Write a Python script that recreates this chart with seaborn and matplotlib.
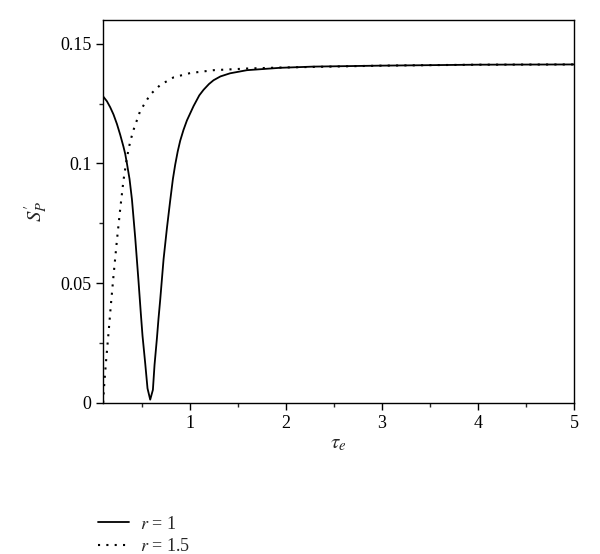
import numpy as np
import pandas as pd
import matplotlib
matplotlib.use("Agg")
import matplotlib.pyplot as plt
import seaborn as sns

# r = 1 (solid)
tau_r1 = [0.100, 0.139, 0.173, 0.207, 0.243, 0.277, 0.311, 0.329, 0.347, 0.374, 0.399,
          0.433, 0.467, 0.492, 0.509, 0.537, 0.561, 0.589, 0.617, 0.634, 0.659, 0.675,
          0.693, 0.728, 0.763, 0.797, 0.825, 0.849, 0.875, 0.901, 0.935, 0.971, 1.04,
          1.10, 1.144, 1.20, 1.248, 1.32, 1.42, 1.595, 1.942, 2.29, 2.98, 4.0, 5.0]
sp_r1 = [0.1280, 0.1260, 0.1235, 0.1205, 0.1165, 0.1120, 0.1070, 0.1040, 0.1000, 0.0935, 0.0850,
         0.0690, 0.0510, 0.0370, 0.0280, 0.0165, 0.0060, 0.0013, 0.0054, 0.0158, 0.0270, 0.0350,
         0.0430, 0.0600, 0.0730, 0.0845, 0.0935, 0.0995, 0.1050, 0.1095, 0.1140, 0.1180, 0.1240,
         0.1285, 0.1308, 0.1332, 0.1348, 0.1364, 0.1377, 0.1390, 0.1400, 0.1405, 0.1409, 0.1413, 0.1414]
# r = 1.5 (dotted)
tau_r15 = [0.100, 0.103, 0.115, 0.131, 0.155, 0.180, 0.207, 0.243, 0.277, 0.311, 0.347,
           0.380, 0.415, 0.485, 0.589, 0.693, 0.832, 1.005, 1.248, 1.6, 1.94, 3.0, 4.0, 5.0]
sp_r15 = [0.0000, 0.0030, 0.0100, 0.0180, 0.0290, 0.0410, 0.0530, 0.0680, 0.0810, 0.0930, 0.1025,
          0.1090, 0.1140, 0.1220, 0.1288, 0.1328, 0.1360, 0.1378, 0.1390, 0.1397, 0.1401, 0.1409, 0.1413, 0.1414]

sns.set_style("ticks")
plt.rcParams['font.family'] = ['Liberation Serif', 'DejaVu Serif']
plt.rcParams['mathtext.fontset'] = 'stix'

fig = plt.figure(figsize=(6, 5.54), dpi=100)
ax = fig.add_axes([0.172, 0.273, 0.785, 0.691])

sns.lineplot(x=tau_r1, y=sp_r1, ax=ax, color='black', linewidth=1.3, sort=False,
             label=r'$r$ = 1')
sns.lineplot(x=tau_r15, y=sp_r15, ax=ax, color='black', linewidth=1.5, sort=False,
             linestyle=(0, (1, 3)), label=r'$r$ = 1.5')

ax.set_xlim(0.1, 5)
ax.set_ylim(0, 0.16)
ax.set_xticks([1, 2, 3, 4, 5])
ax.set_xticklabels(['1', '2', '3', '4', '5'])
ax.set_xticks(np.arange(0.5, 5.0, 1.0), minor=True)
ax.set_yticks([0, 0.05, 0.1, 0.15])
ax.set_yticklabels(['0', '0.05', '0.1', '0.15'])
ax.set_yticks([0.025, 0.075, 0.125], minor=True)
ax.tick_params(axis='both', which='major', direction='out', length=5, width=1, labelsize=13, colors='black')
ax.tick_params(axis='both', which='minor', direction='out', length=3, width=1)
for s in ax.spines.values():
    s.set_linewidth(1.0)
    s.set_color('black')
    s.set_visible(True)

ax.set_xlabel(r'$\tau_e$', fontsize=15, labelpad=2)
ax.set_ylabel(r"$S_P'$", fontsize=15, labelpad=8)

handles, labels = ax.get_legend_handles_labels()
ax.get_legend().remove()
fig.legend(handles, labels, loc='upper left', bbox_to_anchor=(0.152, 0.082), frameon=False,
           fontsize=13, handlelength=1.7, handletextpad=0.6, labelspacing=0.3, borderaxespad=0)

fig.savefig('out.png', dpi=100, facecolor='white')
